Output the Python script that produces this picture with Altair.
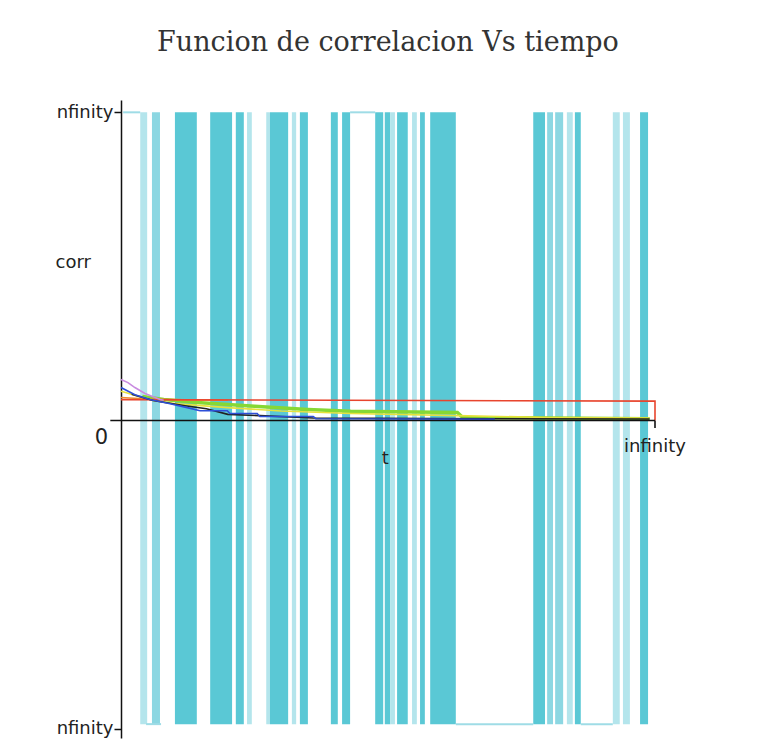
import altair as alt
import pandas as pd

# ---- vertical trace bands (x from, x to, shade) ----
band_x0 = [3.6, 5.8, 10.1, 16.7, 21.5, 23.6, 27.2, 27.9, 32.0, 33.5, 39.3, 41.4,
           47.6, 49.4, 50.4, 51.7, 54.5, 56.0, 57.9, 77.2, 79.8, 81.3, 83.5,
           85.0, 92.1, 94.0, 97.2]
band_x1 = [4.9, 7.3, 14.2, 20.8, 23.0, 24.5, 27.9, 31.3, 32.8, 35.0, 40.6, 42.9,
           49.1, 50.4, 51.3, 53.7, 55.4, 56.9, 62.7, 79.4, 80.9, 82.8, 84.6,
           86.1, 93.4, 95.3, 98.7]
band_shade = ["light", "medium", "dark", "dark", "dark", "light", "light", "dark",
              "light", "dark", "dark", "dark", "dark", "dark", "light", "dark",
              "light", "dark", "dark", "dark", "medium", "medium", "light",
              "dark", "light", "light", "dark"]
band_top = 100
band_bottom = -98.5

# ---- thin horizontal trace segments joining the bands at the extremes ----
seg_x0 = [0.4, 42.9, 4.7, 62.7, 86.1]
seg_x1 = [3.6, 47.6, 7.5, 77.2, 92.1]
seg_y = [100, 100, -98.5, -98.5, -98.5]

# ---- correlation curves ----
magenta_x = [0, 1.3, 2.6, 4.5, 7.3, 8.0]
magenta_y = [13.3, 12.3, 10.7, 8.8, 6.8, 6.6]
blue_x = [0, 2.6, 5.4, 9.0, 12.4, 14.8, 19.9, 20.4, 25.5, 26.0, 36.0, 36.5, 70.0]
blue_y = [10.7, 8.4, 6.8, 5.5, 4.2, 3.2, 3.2, 2.3, 2.3, 1.3, 1.3, 0.6, 0.4]
black_x = [2, 6, 12, 16, 20, 26, 36, 70, 99]
black_y = [8.5, 6.5, 4.8, 3.8, 2.0, 1.6, 0.8, 0.6, 0.5]
yellow_x = [0, 1, 3, 6, 10, 20, 30, 43, 63, 80, 99]
yellow_y = [9.5, 9.0, 8.0, 6.5, 5.5, 4.2, 3.1, 2.3, 1.6, 1.0, 0.8]
green_x = [4, 8, 15, 25, 35, 43, 63, 64, 99]
green_y = [7.8, 6.8, 5.8, 4.6, 3.6, 3.0, 2.6, 1.0, 0.6]
orange_x = [0, 5, 12, 20]
orange_y = [7.5, 7.0, 6.7, 6.6]
red_x = [0, 100, 100]
red_y = [6.8, 6.3, 0]

series = [
    ("green", green_x, green_y, "#86D834"),
    ("yellow", yellow_x, yellow_y, "#E6E23C"),
    ("orange", orange_x, orange_y, "#F0902E"),
    ("red", red_x, red_y, "#E8452E"),
    ("magenta", magenta_x, magenta_y, "#C98BE0"),
    ("black", black_x, black_y, "#222222"),
    ("blue", blue_x, blue_y, "#2E4FD8"),
]

rows = []
for name, xs, ys, _ in series:
    for i, (xv, yv) in enumerate(zip(xs, ys)):
        rows.append({"serie": name, "i": i, "t": xv, "corr": yv})
curves = pd.DataFrame(rows)

bands = pd.DataFrame({"x0": band_x0, "x1": band_x1, "shade": band_shade,
                      "y0": band_bottom, "y1": band_top})
segs = pd.DataFrame({"x0": seg_x0, "x1": seg_x1, "y": seg_y})

xscale = alt.Scale(domain=[0, 100], nice=False, zero=False)
yscale = alt.Scale(domain=[-103, 104], nice=False, zero=False)

band_layer = alt.Chart(bands).mark_rect(opacity=0.92).encode(
    x=alt.X("x0:Q", scale=xscale, axis=None),
    x2="x1:Q",
    y=alt.Y("y0:Q", scale=yscale, axis=alt.Axis(
        values=[-100, 100], labelExpr="'nfinity'", title="corr",
        titleAngle=0, titleAlign="left", titleBaseline="middle",
        titleX=-66, titleY=162, titleFont="DejaVu Sans", titleFontSize=18,
        titleFontWeight="normal", titleColor="#222",
        labelFont="DejaVu Sans", labelFontSize=18, labelColor="#222",
        labelPadding=1, tickSize=7, tickWidth=1.5, tickColor="#111",
        domainColor="#111", domainWidth=1.5, grid=False)),
    y2="y1:Q",
    fill=alt.Fill("shade:N", legend=None, scale=alt.Scale(
        domain=["dark", "medium", "light"],
        range=["#4CC3D1", "#82D4DF", "#AEE3EA"])),
)

seg_layer = alt.Chart(segs).mark_rule(color="#9FDCE6", strokeWidth=2).encode(
    x=alt.X("x0:Q", scale=xscale), x2="x1:Q", y=alt.Y("y:Q", scale=yscale)
)

curve_layer = alt.Chart(curves).mark_line().encode(
    x=alt.X("t:Q", scale=xscale),
    y=alt.Y("corr:Q", scale=yscale),
    detail="serie:N",
    order="i:Q",
    stroke=alt.Stroke("serie:N", legend=None, scale=alt.Scale(
        domain=[s[0] for s in series], range=[s[3] for s in series])),
    strokeWidth=alt.condition(alt.datum.serie == "green", alt.value(3.5),
                              alt.value(1.6)),
)

# horizontal axis drawn through zero
axis_x0 = [-2]
axis_x1 = [100]
xaxis = alt.Chart(pd.DataFrame({"a": axis_x0, "b": axis_x1, "y": [0]})).mark_rule(
    color="#111", strokeWidth=1.6).encode(
    x=alt.X("a:Q", scale=xscale), x2="b:Q", y=alt.Y("y:Q", scale=yscale))
xtick = alt.Chart(pd.DataFrame({"x": [100], "a": [0], "b": [-2.4]})).mark_rule(
    color="#111", strokeWidth=1.6).encode(
    x=alt.X("x:Q", scale=xscale), y=alt.Y("a:Q", scale=yscale), y2="b:Q")

labels = pd.DataFrame({
    "x": [-2, 100, 49.5],
    "y": [0, 0, 0],
    "txt": ["0", "infinity", "t"],
    "size": [21, 18, 18],
    "dy": [17, 26, 38],
    "dx": [-9, 0, 0],
})
label_layers = [
    alt.Chart(labels.iloc[[k]]).mark_text(
        font="DejaVu Sans", fontSize=int(labels["size"][k]), color="#222",
        dy=int(labels["dy"][k]), dx=int(labels["dx"][k]), baseline="middle",
        align="center").encode(
        x=alt.X("x:Q", scale=xscale), y=alt.Y("y:Q", scale=yscale), text="txt:N")
    for k in range(len(labels))
]

chart = alt.layer(
    band_layer, seg_layer, curve_layer, xaxis, xtick, *label_layers
).resolve_scale(
    fill="independent", stroke="independent"
).properties(
    width=534, height=638,
    title=alt.TitleParams("Funcion de correlacion Vs tiempo", font="DejaVu Serif",
                          fontSize=27, fontWeight="normal", color="#333",
                          anchor="middle", offset=43),
    autosize=alt.AutoSizeParams(type="none"),
    padding={"left": 121, "top": 100, "right": 104, "bottom": 15},
).configure(background="white").configure_view(stroke=None)

chart.save("out.html", embed_options={"renderer": "svg", "actions": False})
